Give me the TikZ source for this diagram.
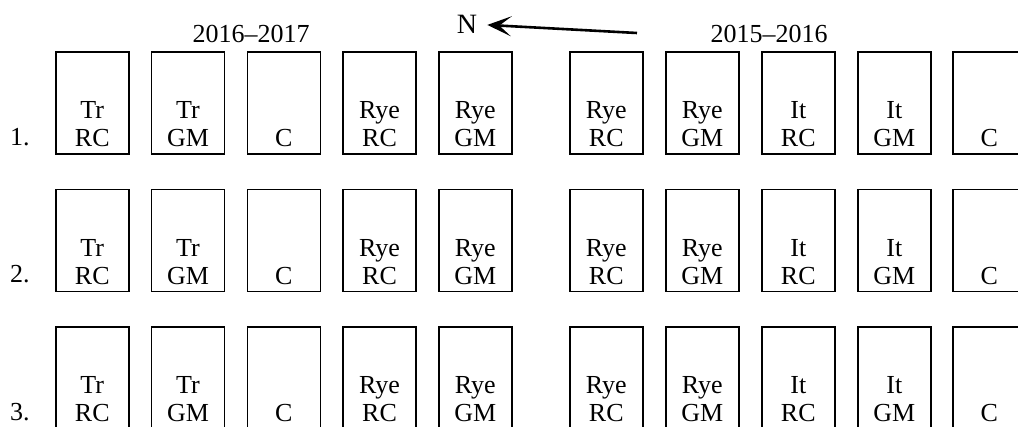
\documentclass[tikz,border=0pt]{standalone}
\usepackage{fontspec}
\setmainfont{Liberation Serif}
\usetikzlibrary{arrows.meta}
\tikzset{
  plot/.style={draw, line width=1.6pt, rectangle, inner sep=0pt,
    minimum width=73pt, minimum height=102pt, anchor=north west},
  lbl/.style={font=\fontsize{26}{26}\selectfont, inner sep=0pt, anchor=base},
  yearlbl/.style={font=\fontsize{26}{26}\selectfont, inner sep=0pt, anchor=base},
  northarrow/.style={line width=2.6pt,
    -{Stealth[length=24pt 0, width=20pt 0, inset=12pt 0]}},
}
\begin{document}
\begin{tikzpicture}[x=1pt, y=-1pt]
  \useasboundingbox (0,0) rectangle (1018,426);
  \clip (0,0) rectangle (1018,426);

  % season headings
  \node[yearlbl] (y1) at (251,42) {2016--2017};
  \node[yearlbl] (y2) at (769,42) {2015--2016};

  % north marker
  \node[font=\fontsize{28}{28}\selectfont, anchor=base, inner ysep=0pt,
        inner xsep=10pt] (N) at (467,33) {N};
  \coordinate (tail) at (637,33);
  \draw[northarrow] (tail) -- (N);

  % three replications of ten plots
  \foreach \r/\top in {1/51, 2/188.5, 3/326} {
    \node[lbl, anchor=base west] (n\r) at (10,\top+94) {\r.};
    \foreach \i/\x/\a/\b in {1/55/Tr/RC, 2/150.75/Tr/GM, 3/246.5//C,
        4/342.25/Rye/RC, 5/438/Rye/GM, 6/569/Rye/RC, 7/665/Rye/GM,
        8/761/It/RC, 9/857/It/GM, 10/952//C} {
      \node[plot] (p\r-\i) at (\x,\top) {};
      \node[lbl] (b\r-\i) at ([yshift=8pt]p\r-\i.south) {\b};
      \node[lbl] (a\r-\i) at ([yshift=36pt]p\r-\i.south) {\a};
    }
  }
\end{tikzpicture}
\end{document}
